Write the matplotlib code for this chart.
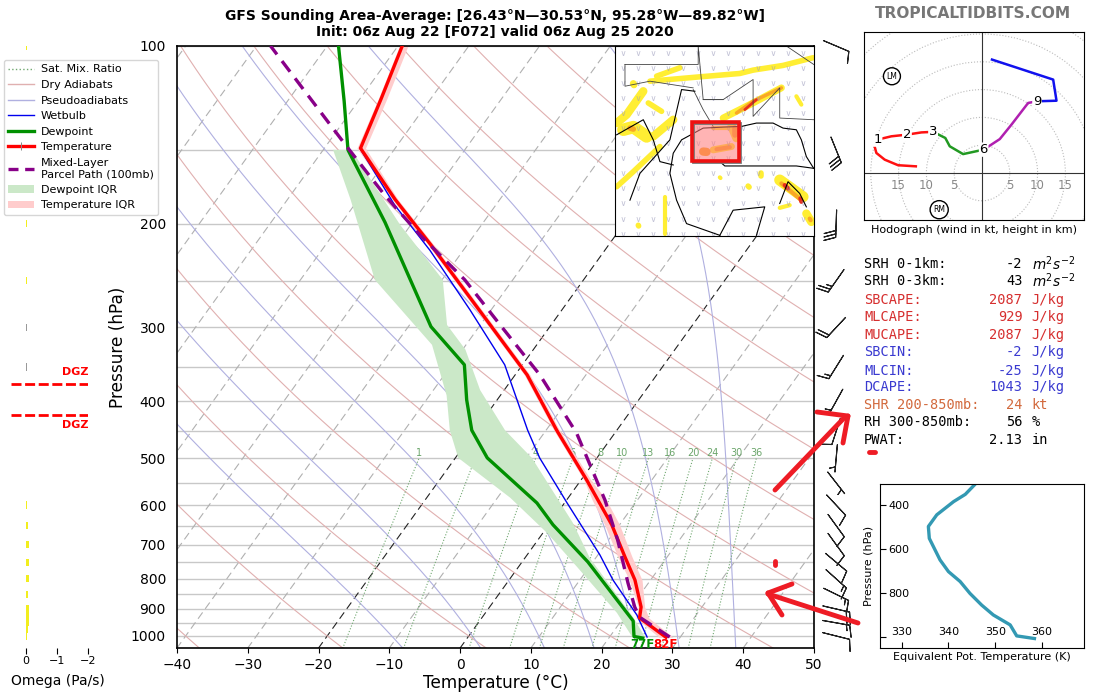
import numpy as np
import matplotlib
matplotlib.use('Agg')
import matplotlib.pyplot as plt
from matplotlib.lines import Line2D
from matplotlib.patches import Patch, Rectangle, Circle
from matplotlib.ticker import ScalarFormatter, NullFormatter

W, H = 1100, 700

# sounding
t_p = [1005, 932, 893, 804, 734, 648, 588, 544, 448, 361, 297, 217, 182, 149, 123, 100]
t_c = [28, 22.3, 21.4, 17.8, 14, 8.9, 4.4, 0.8, -8.5, -18.3, -28.6, -45.2, -54.8, -64.9, -67, -69.4]
t_lo = [27, 21.8, 21, 17, 13, 7.9, 3.6, 0.4, -8.9, -18.7, -29, -45.6, -55.2, -65.4, -67.4, -69.8]
t_hi = [29, 23.6, 21.9, 18.8, 15, 10, 5.6, 1.4, -8.1, -17.9, -28.2, -44.8, -54.4, -64.2, -66.2, -68.6]

td_p = [1008, 1002, 943, 749, 648, 595, 499, 448, 398, 347, 299, 199, 150, 124, 100]
td_c = [24.8, 23.4, 21.7, 9.3, 0.6, -3.9, -15.5, -20.5, -24.3, -28.2, -36.8, -53.9, -66.5, -72, -78.4]
td_lo_p = [150, 182, 249, 321, 391, 448, 499, 583, 669, 764, 914, 1004]
td_lo_c = [-68.6, -61.1, -49.5, -34.8, -27.6, -23.6, -19.6, -8.2, 0.6, 8.3, 18.6, 23.2]
td_hi_p = [150, 201, 249, 297, 327, 383, 448, 499, 643, 738, 929, 1004]
td_hi_c = [-66, -51.5, -39.9, -34.7, -29.6, -23.4, -15.8, -9.2, 3.2, 9.2, 21.3, 25]

wb_p = [1004, 921, 804, 729, 593, 499, 448, 347, 280, 222, 186, 149]
wb_c = [25.3, 21.6, 14.7, 10.3, 0.2, -8.1, -12.6, -22.5, -33, -44.7, -54.3, -65]

parcel_p = [1004, 929, 893, 813, 688, 588, 453, 361, 297, 249, 209, 179, 147, 100]
parcel_c = [28.5, 22.2, 20.5, 17.1, 11.3, 5.4, -5.4, -16.5, -27.2, -36.8, -47.7, -56.7, -67.4, -88]

# background families
dry_t0 = [-40, -20, 0, 20, 40, 60, 80, 100, 120, 140, 160, 180]
moist_t0 = [-8, 3, 12, 19, 25, 31, 39]
mix_w = [1, 2, 4, 6, 8, 10, 13, 16, 20, 24, 30, 36]
iso_p = list(range(100, 1051, 50))

# wind barbs
wind_p = [100, 150, 200, 250, 300, 350, 400, 450, 500, 550, 600, 650, 700, 750, 800, 850, 900, 950, 1000]
wind_dir = [113, 158, 182, 215, 223, 212, 209, 198, 185, 142, 137, 144, 144, 130, 132, 116, 103, 100, 104]
wind_spd = [10, 30, 30, 25, 20, 15, 15, 10, 5, 5, 10, 10, 10, 10, 15, 15, 20, 15, 10]

# omega
omega_p = [100, 200, 250, 300, 350, 600, 650, 700, 750, 800, 850, 900, 925, 950, 975, 1000]
omega_v = [-0.02, -0.02, -0.02, -0.01, -0.01, -0.03, -0.06, -0.1, -0.1, -0.09, -0.06, -0.1, -0.1, -0.1, -0.05, -0.03]
omega_col = ['#f2ee1e'] * 3 + ['#999999'] * 2 + ['#f2ee1e'] * 11
dgz_p = [374, 422]

# hodograph
hodo_red = ([-11.9, -15.1, -17.5, -19, -19.4, -18.8, -16.3, -13.5, -10.9, -8.8],
            [1.2, 1.4, 2.4, 3.6, 5.1, 6, 6.6, 6.9, 7.3, 7.4])
hodo_green = ([-8.8, -6.6, -5.8, -3.4, 0.3], [7.4, 6.3, 4.8, 3.4, 4.2])
hodo_purple = ([0.3, 3.2, 5.3, 8.3, 9.9], [4.2, 6.1, 8.7, 12.6, 12.9])
hodo_blue = ([9.9, 13.4, 12.8, 1.8], [12.9, 13, 16.8, 20.4])
hodo_km = ['1', '2', '3', '6', '9']
hodo_km_u = [-18.8, -13.5, -8.8, 0.3, 9.9]
hodo_km_v = [6, 6.9, 7.4, 4.2, 12.9]
hodo_rings = [5, 10, 15, 20, 25, 30]
hodo_ticks = [-15, -10, -5, 5, 10, 15]

# equivalent potential temperature
te_k = [345.7, 343.6, 341.1, 337.5, 335.7, 335.9, 338.2, 340, 342.5, 344.6, 347.1, 349.6, 353.2, 354.6, 358.4]
te_p = [306, 352, 385, 445, 498, 552, 650, 703, 748, 802, 855, 900, 945, 995, 1007]

# indices panel
stats = [
    ('SRH 0-1km:', '-2', r'$m^2s^{-2}$', 'k'),
    ('SRH 0-3km:', '43', r'$m^2s^{-2}$', 'k'),
    ('SBCAPE:', '2087', 'J/kg', '#d62f2f'),
    ('MLCAPE:', '929', 'J/kg', '#d62f2f'),
    ('MUCAPE:', '2087', 'J/kg', '#d62f2f'),
    ('SBCIN:', '-2', 'J/kg', '#3a3ad0'),
    ('MLCIN:', '-25', 'J/kg', '#3a3ad0'),
    ('DCAPE:', '1043', 'J/kg', '#3a3ad0'),
    ('SHR 200-850mb:', '24', 'kt', '#d2693c'),
    ('RH 300-850mb:', '56', '%', 'k'),
    ('PWAT:', '2.13', 'in', 'k'),
]
stats_y = [264, 281, 300, 317, 335, 352, 371, 387, 405, 422, 440]

# inset map shapes, in the map's own grid
map_yellow = [
    ([20, 50, 100], [250, 225, 155], 6),
    ([70, 72], [132, 136], 5),
    ([120, 270, 390, 430, 520, 610], [125, 112, 102, 92, 78, 55], 4),
    ([140, 210], [110, 85], 4),
    ([40, 70, 110], [270, 262, 290], 9),
    ([130, 190], [290, 240], 6),
    ([115, 155], [190, 215], 4),
    ([20, 70, 150], [440, 395, 320], 4),
    ([340, 420, 515], [235, 195, 145], 5),
    ([165, 165], [470, 580], 3),
    ([510, 580], [420, 470], 8),
    ([590, 605], [520, 545], 6),
    ([510, 540], [503, 495], 3),
    ([415, 418], [438, 441], 4),
    ([453, 453], [398, 408], 4),
    ([330, 332], [412, 414], 3),
    ([560, 575], [170, 195], 3),
    ([85, 86], [555, 557], 4),
    ([310, 365], [330, 320], 5),
    ([310, 365], [265, 265], 3),
    ([365, 380], [260, 295], 6),
]
map_orange = [([380, 430, 515], [220, 185, 145], 2.5), ([515, 575], [430, 480], 3), ([60, 70], [265, 268], 4),
              ([280, 290], [335, 336], 6), ([320, 360], [328, 322], 3), ([375, 375], [265, 285], 4),
              ([600, 603], [535, 540], 3)]
map_red = [([405, 440], [210, 180], 2), ([525, 535], [435, 445], 3), ([572, 575], [475, 485], 3)]
map_coast = [
    ([330, 230, 200, 180, 190, 215, 280, 340, 395, 440, 490, 520, 560, 575, 590, 612],
     [585, 550, 480, 400, 340, 300, 265, 262, 260, 250, 250, 265, 270, 300, 350, 385]),
    ([330, 370, 465, 440], [585, 510, 500, 585]),
    ([510, 535, 570, 590], [490, 425, 460, 500]),
    ([20, 100, 130, 150, 190], [285, 240, 300, 365, 375]),
    ([330, 345, 440, 560, 612], [365, 378, 378, 378, 385]),
    ([60, 90, 180, 215, 255], [480, 400, 300, 150, 155]),
]
map_border = [
    ([45, 265, 265, 280, 340], [75, 75, 20, 180, 180]),
    ([45, 45, 120, 250], [75, 140, 125, 145]),
    ([280, 340, 430, 430, 510, 510, 612], [180, 180, 120, 230, 145, 235, 240]),
    ([250, 280, 310], [150, 210, 260]),
    ([530, 612], [20, 75]),
]
box = (245, 247, 388, 363)


def px_rect(l, t, r, b):
    return [l / W, 1 - b / H, (r - l) / W, (b - t) / H]


def skew(t, p):
    return np.asarray(t) + 60.0 * np.log10(1048.0 / np.asarray(p))


def sat_vap(t):
    return 6.112 * np.exp(17.67 * t / (t + 243.5))


def moist_line(t0, p):
    out = [t0]
    for i in range(1, len(p)):
        tk = out[-1] + 273.15
        rs = 0.622 * sat_vap(out[-1]) / (p[i - 1] - sat_vap(out[-1]))
        num = 287.0 * tk + 2.5e6 * rs
        den = 1004.0 + 2.5e6 ** 2 * rs * 0.622 / (287.0 * tk ** 2)
        out.append(out[-1] + num / den * np.log(p[i] / p[i - 1]))
    return np.array(out)


fig = plt.figure(figsize=(W / 100, H / 100), dpi=100)
ax = fig.add_axes(px_rect(177, 46, 814, 648))

pp = np.linspace(1050, 100, 400)
for pr in iso_p:
    ax.axhline(pr, color='#c8c8c8', lw=1, zorder=1)
for t0 in range(-130, 60, 10):
    black = t0 in (-20, 0)
    ax.plot(skew(t0 + 0 * pp, pp), pp, color='#222222' if black else '#b0b0b0', lw=0.8, ls=(0, (7, 4)), zorder=1.5)
for t0 in dry_t0:
    ax.plot(skew((t0 + 273.15) * (pp / 1000.0) ** 0.286 - 273.15, pp), pp, color='#e0b0b0', lw=0.8, zorder=1.5)
for t0 in moist_t0:
    ax.plot(skew(moist_line(t0, pp), pp), pp, color='#b0b0e0', lw=0.8, zorder=1.5)
pm = np.linspace(1050, 500, 50)
for w in mix_w:
    lne = np.log(w * pm / (622.0 + w) / 6.112)
    td = 243.5 * lne / (17.67 - lne)
    ax.plot(skew(td, pm), pm, color='#70a870', lw=0.8, ls=':', zorder=1.5)
    ax.text(skew(td[-1], 500), 490, str(w), color='#6aa56a', fontsize=7, ha='center', va='center',
            zorder=2)

xl = np.concatenate([skew(td_lo_c, td_lo_p), skew(td_hi_c, td_hi_p)[::-1]])
yl = td_lo_p + td_hi_p[::-1]
ax.fill(xl, yl, color='#cbe8c8', lw=0, zorder=2)
ax.fill_betweenx(t_p, skew(t_lo, t_p), skew(t_hi, t_p), color='#ffcccc', lw=0, zorder=2.1)
ax.plot(skew(wb_c, wb_p), wb_p, color='#0000ee', lw=1, zorder=3)
ax.plot(skew(td_c, td_p), td_p, color='#009000', lw=2.4, zorder=4)
ax.plot(skew(t_c, t_p), t_p, color='#ff0000', lw=2.4, zorder=4)
ax.plot(skew(parcel_c, parcel_p), parcel_p, color='#880088', lw=2.4, ls=(0, (4, 2.5)), zorder=5)

ax.set_yscale('log')
ax.set_ylim(1048, 100)
ax.set_xlim(-40, 50)
ax.set_yticks([100, 200, 300, 400, 500, 600, 700, 800, 900, 1000])
ax.yaxis.set_major_formatter(ScalarFormatter())
ax.yaxis.set_minor_formatter(NullFormatter())
ax.tick_params(axis='y', which='both', length=0, pad=8, labelsize=10)
ax.tick_params(axis='x', labelsize=10, length=3.5)
ax.set_xticks(range(-40, 51, 10))
ax.set_xlabel('Temperature (°C)', fontsize=12.2, labelpad=2)
ax.set_ylabel('Pressure (hPa)', fontsize=12.2, labelpad=2.5)
for s in ax.spines.values():
    s.set_linewidth(1.2)

fig.text(642 / W, 1 - 645 / H, '77F', color='#009000', fontsize=8.5, weight='bold', ha='center', va='center')
fig.text(665 / W, 1 - 645 / H, '82F', color='#ff0000', fontsize=8.5, weight='bold', ha='center', va='center')

fig.text(495 / W, 1 - 24 / H,
         'GFS Sounding Area-Average: [26.43°N—30.53°N, 95.28°W—89.82°W]\n'
         'Init: 06z Aug 22 [F072] valid 06z Aug 25 2020',
         fontsize=10, weight='bold', ha='center', va='center', linespacing=1.15)
fig.text(973 / W, 1 - 13 / H, 'TROPICALTIDBITS.COM', color='#777777', fontsize=11.1, weight='bold',
         ha='center', va='center')

# omega strip
axo = fig.add_axes(px_rect(11, 46, 88.3, 648))
axo.set_yscale('log')
axo.set_ylim(1048, 100)
axo.set_xlim(0.49, -2)
axo.barh(omega_p, omega_v, height=0.028 * np.array(omega_p), color=omega_col, lw=0)
for pr in dgz_p:
    axo.plot([0.49, -2], [pr, pr], color='#ff0000', lw=2, ls=(0, (3.6, 1.3)))
axo.text(-2, dgz_p[0] * 0.975, 'DGZ', color='#ff0000', fontsize=8, weight='bold', ha='right', va='bottom')
axo.text(-2, dgz_p[1] * 1.02, 'DGZ', color='#ff0000', fontsize=8, weight='bold', ha='right', va='top')
for s in axo.spines.values():
    s.set_visible(False)
axo.set_yticks([])
axo.minorticks_off()
axo.patch.set_alpha(0)
axo.set_xticks([0, -1, -2])
axo.set_xticklabels(['0', '\u22121', '\u22122'])
axo.tick_params(axis='x', labelsize=8, length=4, pad=2)
fig.text(58 / W, 1 - 681 / H, 'Omega (Pa/s)', fontsize=10, ha='center', va='center')

# wind column
axw = fig.add_axes(px_rect(815, 46, 860, 648))
axw.axis('off')
axw.set_yscale('log')
axw.set_ylim(1048, 100)
axw.set_xlim(0, 1)
wd = np.radians(wind_dir)
axw.barbs(np.full(len(wind_p), 0.47), wind_p, -np.array(wind_spd) * np.sin(wd), -np.array(wind_spd) * np.cos(wd),
          length=6.3, pivot='middle', linewidth=0.8, color='#222222', clip_on=False,
          barb_increments=dict(half=5, full=10, flag=50),
          sizes=dict(spacing=0.125, height=0.42, emptybarb=0))

# map inset
axm = fig.add_axes(px_rect(615, 46, 814, 236))
axm.set_xlim(15, 613)
axm.set_ylim(587, 20)
axm.set_xticks([])
axm.set_yticks([])
for xs, ys, lw in map_yellow:
    axm.plot(xs, ys, color='#ffee33', lw=lw, solid_capstyle='round', solid_joinstyle='round')
for xs, ys, lw in map_orange:
    axm.plot(xs, ys, color='#f9a825', lw=lw, solid_capstyle='round')
for xs, ys, lw in map_red:
    axm.plot(xs, ys, color='#e8301c', lw=lw, solid_capstyle='round')
gx, gy = np.meshgrid(np.arange(40, 610, 45), np.arange(40, 585, 45))
axm.plot(gx.ravel(), gy.ravel(), ls='none', marker='$\\vee$', ms=3.5, color='#9999bb', alpha=0.6, mew=0)
for xs, ys in map_border:
    axm.plot(xs, ys, color='#444444', lw=0.6)
for xs, ys in map_coast:
    axm.plot(xs, ys, color='k', lw=0.8)
axm.add_patch(Rectangle((box[0], box[1]), box[2] - box[0], box[3] - box[1], fc='#ff7777', alpha=0.55, lw=0, zorder=5))
axm.add_patch(Rectangle((box[0] + 3, box[1] + 3), box[2] - box[0], box[3] - box[1], fill=False, ec='#777777',
                        lw=2, zorder=5.5))
axm.add_patch(Rectangle((box[0], box[1]), box[2] - box[0], box[3] - box[1], fill=False, ec='#ee1111', lw=2.6, zorder=6))

# hodograph
axh = fig.add_axes(px_rect(864, 32, 1084, 220))
axh.set_xlim((864 - 982) / 5.56, (1084 - 982) / 5.56)
axh.set_ylim((173 - 220) / 5.56, (173 - 32) / 5.56)
axh.set_xticks([])
axh.set_yticks([])
axh.axhline(0, color='#333333', lw=0.8)
axh.axvline(0, color='#333333', lw=0.8)
for r in hodo_rings:
    axh.add_patch(Circle((0, 0), r, fill=False, ec='#bbbbbb', lw=0.8, ls=':'))
for t in hodo_ticks:
    axh.text(t, -2.3, str(abs(t)), color='#888888', fontsize=8.5, ha='center', va='center')
axh.plot(*hodo_red, color='#ff1111', lw=1.8)
axh.plot(*hodo_green, color='#229922', lw=1.8)
axh.plot(*hodo_purple, color='#b020b0', lw=1.8)
axh.plot(*hodo_blue, color='#1111ee', lw=1.8)
for u, v, s in zip(hodo_km_u, hodo_km_v, hodo_km):
    axh.text(u, v, s, fontsize=9.5, ha='center', va='center',
             bbox=dict(boxstyle='round,pad=0.05', fc='white', ec='none'))
axh.text(-16.2, 17.4, 'LM', fontsize=5.5, ha='center', va='center',
         bbox=dict(boxstyle='circle,pad=0.4', fc='white', ec='k', lw=1))
axh.text(-7.7, -6.6, 'RM', fontsize=5.5, ha='center', va='center',
         bbox=dict(boxstyle='circle,pad=0.4', fc='white', ec='k', lw=1))
fig.text(974 / W, 1 - 230 / H, 'Hodograph (wind in kt, height in km)', fontsize=8, ha='center', va='center')

# indices
for (name, val, unit, col), y in zip(stats, stats_y):
    fig.text(864 / W, 1 - y / H, name, color=col, family='DejaVu Sans Mono', fontsize=9.8, va='center')
    fig.text(1022.5 / W, 1 - y / H, val, color=col, family='DejaVu Sans Mono', fontsize=9.8, ha='right', va='center')
    fig.text(1031.5 / W, 1 - y / H, unit, color=col, family='DejaVu Sans Mono', fontsize=9.8, va='center')

# theta-e panel
axe = fig.add_axes(px_rect(880, 484, 1084, 648))
axe.plot(te_k, te_p, color='#3399b3', lw=2.4)
axe.set_xlim(325.35, 369)
axe.set_ylim(1050, 305)
axe.set_xticks([330, 340, 350, 360])
axe.set_yticks([400, 600, 800, 1000])
axe.set_yticklabels(['400', '600', '800', ''])
axe.tick_params(axis='x', direction='in', length=4, pad=-15, labelsize=8)
axe.tick_params(axis='y', direction='in', length=4, pad=-6, labelsize=8)
for lab in axe.get_yticklabels():
    lab.set_ha('left')
axe.set_xlabel('Equivalent Pot. Temperature (K)', fontsize=8, labelpad=3)
axe.set_ylabel('Pressure (hPa)', fontsize=8, labelpad=4.5)

# legend
handles = [
    Line2D([], [], color='#70a870', lw=1, ls=':'),
    Line2D([], [], color='#e0b0b0', lw=1),
    Line2D([], [], color='#b0b0e0', lw=1),
    Line2D([], [], color='#0000ee', lw=1),
    Line2D([], [], color='#009000', lw=2.4),
    Line2D([], [], color='#ff0000', lw=2.4, marker='|', ms=6, mec='#888888', mew=0.7),
    Line2D([], [], color='#880088', lw=2.4, ls=(0, (3, 2))),
    Patch(fc='#cbe8c8'),
    Patch(fc='#ffcccc'),
]
labels = ['Sat. Mix. Ratio', 'Dry Adiabats', 'Pseudoadiabats', 'Wetbulb', 'Dewpoint', 'Temperature',
          'Mixed-Layer\nParcel Path (100mb)', 'Dewpoint IQR', 'Temperature IQR']
fig.legend(handles, labels, loc='upper left', bbox_to_anchor=(4 / W, 1 - 60 / H), fontsize=8,
           borderaxespad=0, labelspacing=0.5, handlelength=2.3, handletextpad=0.6)

# red marker scribbles on top of everything
scribbles = [
    ([775, 845], [490, 417], 3.5), ([817, 848], [412, 416], 3.5), ([848, 843], [416, 443], 3.5),
    ([858, 768], [623, 594], 3.5), ([792, 768], [584, 593], 3.5), ([768, 782], [593, 615], 3.5),
    ([775, 775], [561, 565], 3.5), ([869, 875], [452, 452], 3.5),
]
for xs, ys, lw in scribbles:
    fig.add_artist(Line2D(np.array(xs) / W, 1 - np.array(ys) / H, color='#ee1c25', lw=lw,
                          solid_capstyle='round', zorder=10))

fig.savefig('out.png', dpi=100)
